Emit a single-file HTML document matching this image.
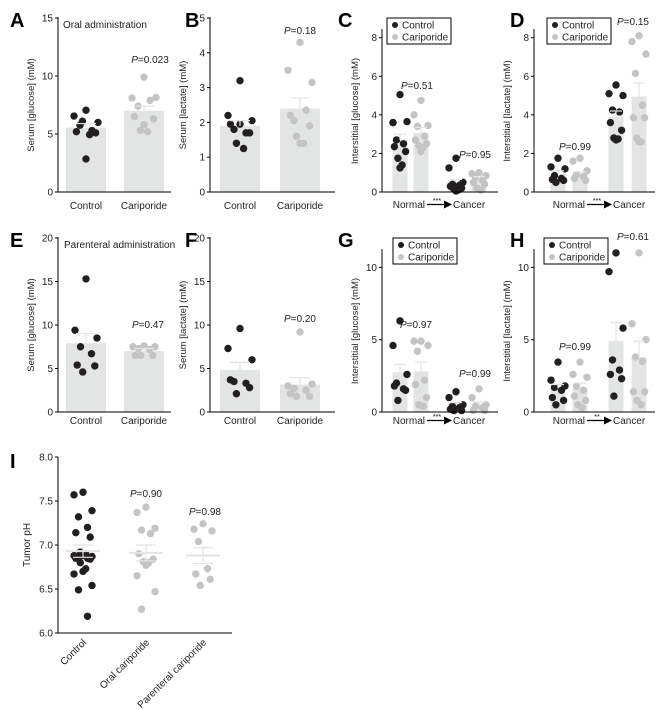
<!DOCTYPE html>
<html><head><meta charset="utf-8"><style>
html,body{margin:0;padding:0;background:#fff;}
svg{display:block;font-family:"Liberation Sans",Arial,sans-serif;}
</style></head><body>
<svg id="s" width="670" height="710" viewBox="0 0 670 710" xmlns="http://www.w3.org/2000/svg">
<g font-weight="bold" font-size="20" fill="#000">
<text x="10" y="27">A</text><text x="185" y="27">B</text><text x="338" y="27">C</text><text x="510" y="27">D</text>
<text x="10" y="247">E</text><text x="185" y="247">F</text><text x="338" y="247">G</text><text x="510" y="247">H</text>
<text x="10" y="468">I</text>
</g>
<g font-size="10" fill="#222">
<text x="63" y="28">Oral administration</text>
<text x="64" y="248">Parenteral administration</text>
<text x="150" y="63" text-anchor="middle"><tspan font-style="italic">P</tspan>=0.023</text>
<text x="300" y="34" text-anchor="middle"><tspan font-style="italic">P</tspan>=0.18</text>
<text x="417" y="89" text-anchor="middle"><tspan font-style="italic">P</tspan>=0.51</text>
<text x="475" y="158" text-anchor="middle"><tspan font-style="italic">P</tspan>=0.95</text>
<text x="575" y="150" text-anchor="middle"><tspan font-style="italic">P</tspan>=0.99</text>
<text x="633" y="25" text-anchor="middle"><tspan font-style="italic">P</tspan>=0.15</text>
<text x="148" y="328" text-anchor="middle"><tspan font-style="italic">P</tspan>=0.47</text>
<text x="300" y="322" text-anchor="middle"><tspan font-style="italic">P</tspan>=0.20</text>
<text x="416" y="328" text-anchor="middle"><tspan font-style="italic">P</tspan>=0.97</text>
<text x="475" y="377" text-anchor="middle"><tspan font-style="italic">P</tspan>=0.99</text>
<text x="575" y="350" text-anchor="middle"><tspan font-style="italic">P</tspan>=0.99</text>
<text x="633" y="240" text-anchor="middle"><tspan font-style="italic">P</tspan>=0.61</text>
<text x="146" y="497" text-anchor="middle"><tspan font-style="italic">P</tspan>=0.90</text>
<text x="205" y="515" text-anchor="middle"><tspan font-style="italic">P</tspan>=0.98</text>
</g>
</svg>
<script>
var s=document.getElementById('s'),NS='http://www.w3.org/2000/svg';
function el(t,a,txt){var e=document.createElementNS(NS,t);for(var k in a)e.setAttribute(k,a[k]);if(txt!==undefined)e.textContent=txt;s.appendChild(e);return e;}
var BK='#231f20',GR='#c4c4c4',BAR='#e3e4e4',R=3.7;
function offs(n,w){var p=[0,-w,w,-w/2,w/2,-w*0.8,w*0.8,-w*0.3,w*0.3];var r=[];for(var i=0;i<n;i++)r.push(p[i%p.length]);return r;}
function panel(o){
 var sc=function(v){return o.y0-(v/o.max)*(o.y0-o.yt);};
 o.g.forEach(function(g){
  if(g.bar!==undefined){el('rect',{x:g.x-o.bw/2,y:sc(g.bar),width:o.bw,height:o.y0-sc(g.bar),fill:BAR});}
 });
 o.g.forEach(function(g){
  var of=offs(g.d.length,o.jw);
  g.d.forEach(function(v,i){el('circle',{cx:g.x+of[i],cy:sc(v),r:R,fill:g.c});});
  if(g.err!==undefined){
   var hw=o.ew;
   el('line',{x1:g.x,y1:sc(g.bar),x2:g.x,y2:sc(g.err),stroke:BAR,'stroke-width':1.2});
   el('line',{x1:g.x-hw,y1:sc(g.err),x2:g.x+hw,y2:sc(g.err),stroke:BAR,'stroke-width':1.2});
  }
 });
 el('line',{x1:o.ax,y1:o.yt-1,x2:o.ax,y2:o.y0,stroke:'#000','stroke-width':1});
 el('line',{x1:o.ax,y1:o.y0,x2:o.xe,y2:o.y0,stroke:'#000','stroke-width':1});
 o.ticks.forEach(function(t){
  el('line',{x1:o.ax-3,y1:sc(t),x2:o.ax,y2:sc(t),stroke:'#000','stroke-width':1});
  el('text',{x:o.ax-5,y:sc(t)+3.5,'font-size':10,'text-anchor':'end',fill:'#222'},String(t));
 });
 var cy=(o.y0+o.yt)/2;
 el('text',{x:0,y:0,'font-size':9.5,'text-anchor':'middle',fill:'#222',transform:'translate('+(o.ax-24)+','+cy+') rotate(-90)'},o.ylab);
}
function xl2(a,b,y){
 el('text',{x:a,y:y,'font-size':10,'text-anchor':'middle',fill:'#222'},'Control');
 el('text',{x:b,y:y,'font-size':10,'text-anchor':'middle',fill:'#222'},'Cariporide');
}
function nc(x,y,stars){
 el('text',{x:x-2,y:y,'font-size':10,'text-anchor':'end',fill:'#222'},'Normal');
 el('line',{x1:x,y1:y-3.5,x2:x+19,y2:y-3.5,stroke:'#000','stroke-width':1.2});
 el('polygon',{points:(x+17)+','+(y-7.5)+' '+(x+25)+','+(y-3.5)+' '+(x+17)+','+(y+0.5),fill:'#000'});
 el('text',{x:x+10,y:y-5,'font-size':7,'text-anchor':'middle',fill:'#000'},stars);
 el('text',{x:x+26,y:y,'font-size':10,fill:'#222'},'Cancer');
}
function legend(x,y){
 el('rect',{x:x,y:y,width:64,height:26,fill:'#fff',stroke:'#000','stroke-width':1});
 el('circle',{cx:x+8,cy:y+7,r:3,fill:BK});
 el('text',{x:x+15,y:y+10.5,'font-size':10,fill:'#222'},'Control');
 el('circle',{cx:x+8,cy:y+19,r:3,fill:GR});
 el('text',{x:x+15,y:y+22.5,'font-size':10,fill:'#222'},'Cariporide');
}
panel({ax:58,y0:192,yt:18,max:15,xe:171,bw:40,jw:12,ew:10,ticks:[0,5,10,15],ylab:'Serum [glucose] (mM)',g:[
 {x:86,c:BK,bar:5.55,err:5.9,d:[7.05,6.55,6.0,5.75,5.3,5.2,5.1,6.1,4.95,2.85]},
 {x:144,c:GR,bar:7.0,err:7.4,d:[9.9,8.1,8.15,7.4,7.9,6.5,6.3,5.3,5.2,5.8]}]});
xl2(86,144,209);
panel({ax:210,y0:192,yt:18,max:5,xe:335,bw:40,jw:12,ew:10,ticks:[0,1,2,3,4,5],ylab:'Serum [lactate] (mM)',g:[
 {x:240,c:BK,bar:1.9,err:2.05,d:[3.2,2.2,2.05,1.8,1.7,1.95,1.7,1.4,1.25,1.95]},
 {x:300,c:GR,bar:2.4,err:2.7,d:[4.3,3.5,3.15,2.05,2.35,2.2,1.9,1.6,1.4,1.4]}]});
xl2(240,300,209);
panel({ax:382,y0:192,yt:30,max:8.4,xe:498,bw:15,jw:7,ew:6,ticks:[0,2,4,6,8],ylab:'Interstitial [glucose] (mM)',g:[
 {x:400,c:BK,bar:2.7,err:3.0,d:[5.05,3.6,3.65,2.7,2.5,2.35,2.1,1.75,1.4,1.25,3.6]},
 {x:421,c:GR,bar:3.05,err:3.35,d:[4.75,4.0,3.45,3.4,2.9,2.7,2.5,2.4,2.3,2.1]},
 {x:456,c:BK,bar:0.5,err:0.65,d:[1.75,1.25,0.5,0.4,0.35,0.3,0.2,0.15,0.1,0.05]},
 {x:479,c:GR,bar:0.65,err:0.8,d:[1.0,0.95,0.85,0.75,0.6,0.5,0.4,0.2,0.1]}]});
legend(387,18);nc(427,208,'***');
panel({ax:534,y0:192,yt:30,max:8.4,xe:655,bw:15,jw:7,ew:6,ticks:[0,2,4,6,8],ylab:'Interstitial [lactate] (mM)',g:[
 {x:558,c:BK,bar:0.95,err:1.1,d:[1.75,1.3,1.2,0.85,0.7,0.65,0.6,0.5]},
 {x:580,c:GR,bar:0.95,err:1.05,d:[1.75,1.6,1.1,0.9,0.8,0.7,0.6]},
 {x:616,c:BK,bar:3.9,err:4.2,d:[5.55,5.1,5.0,4.25,4.15,3.6,3.2,2.8,2.75,2.7]},
 {x:639,c:GR,bar:4.95,err:5.65,d:[8.1,7.8,7.15,6.15,4.5,3.85,3.85,2.8,2.6,2.6]}]});
legend(547,18);nc(587,208,'***');
panel({ax:58,y0:412,yt:238,max:20,xe:171,bw:40,jw:11,ew:10,ticks:[0,5,10,15,20],ylab:'Serum [glucose] (mM)',g:[
 {x:86,c:BK,bar:7.9,err:9.0,d:[15.3,9.4,8.5,7.5,6.7,5.4,5.3,4.6]},
 {x:144,c:GR,bar:7.0,err:7.3,d:[7.6,7.5,7.5,7.3,7.2,6.5,6.5,6.5]}]});
xl2(86,144,424);
panel({ax:210,y0:412,yt:238,max:20,xe:335,bw:40,jw:12,ew:10,ticks:[0,5,10,15,20],ylab:'Serum [lactate] (mM)',g:[
 {x:240,c:BK,bar:4.85,err:5.7,d:[9.6,7.3,6.0,3.5,3.3,3.7,2.8,2.1]},
 {x:300,c:GR,bar:3.15,err:3.95,d:[9.2,3.0,3.2,2.7,2.5,2.1,1.8,1.8]}]});
xl2(240,300,424);
panel({ax:382,y0:412,yt:250,max:11.2,xe:498,bw:15,jw:7,ew:6,ticks:[0,5,10],ylab:'Interstitial [glucose] (mM)',g:[
 {x:400,c:BK,bar:2.75,err:3.3,d:[6.3,4.6,2.6,2.0,1.6,1.8,1.5,0.8]},
 {x:421,c:GR,bar:2.8,err:3.45,d:[4.9,4.9,4.6,4.2,2.2,1.9,1.0,0.5,0.4]},
 {x:456,c:BK,bar:0.5,err:0.65,d:[1.4,1.0,0.5,0.4,0.3,0.2,0.1,0.1]},
 {x:479,c:GR,bar:0.5,err:0.7,d:[1.6,1.0,0.5,0.4,0.3,0.1,0.1]}]});
legend(393,238);nc(427,424,'***');
panel({ax:534,y0:412,yt:250,max:11.2,xe:655,bw:15,jw:7,ew:6,ticks:[0,5,10],ylab:'Interstitial [lactate] (mM)',g:[
 {x:558,c:BK,bar:1.65,err:1.9,d:[3.45,2.2,1.8,1.7,1.5,1.0,0.8,0.5]},
 {x:580,c:GR,bar:1.65,err:2.0,d:[3.45,2.6,2.4,1.8,1.5,1.1,0.8,0.5,0.3]},
 {x:616,c:BK,bar:4.9,err:6.2,d:[11,9.7,5.8,3.6,2.9,2.6,2.3,1.1]},
 {x:639,c:GR,bar:3.8,err:4.9,d:[11,6.1,5.0,3.8,3.5,1.4,1.4,0.8,0.5]}]});
legend(544,238);nc(587,424,'**');
(function(){
 var ax=58,y0=633,yt=457;var sc=function(v){return y0-(v-6)/2*(y0-yt);};
 var gs=[{x:83,c:BK,m:6.93,e:0.07,d:[7.6,7.57,7.39,7.32,7.2,7.14,7.09,6.92,6.9,6.88,6.88,6.87,6.86,6.85,6.85,6.84,6.8,6.73,6.7,6.67,6.54,6.49,6.19],l:'Control'},
 {x:146,c:GR,m:6.91,e:0.09,d:[7.43,7.37,7.19,7.17,7.13,6.9,6.84,6.81,6.8,6.77,6.65,6.47,6.27],l:'Oral cariporide'},
 {x:203,c:GR,m:6.88,e:0.09,d:[7.24,7.18,7.16,7.04,6.73,6.67,6.61,6.54],l:'Parenteral cariporide'}];
 gs.forEach(function(g){
  var of=offs(g.d.length,9);
  g.d.forEach(function(v,i){el('circle',{cx:g.x+of[i],cy:sc(v),r:R,fill:g.c});});
  el('line',{x1:g.x-17,y1:sc(g.m),x2:g.x+17,y2:sc(g.m),stroke:BAR,'stroke-width':2});
  el('line',{x1:g.x,y1:sc(g.m-g.e),x2:g.x,y2:sc(g.m+g.e),stroke:BAR,'stroke-width':1.2});
  [g.m-g.e,g.m+g.e].forEach(function(v){el('line',{x1:g.x-10,y1:sc(v),x2:g.x+10,y2:sc(v),stroke:BAR,'stroke-width':1.2});});
  el('text',{x:0,y:0,'font-size':10,'text-anchor':'end',fill:'#222',transform:'translate('+(g.x+4)+',643) rotate(-45)'},g.l);
 });
 el('line',{x1:ax,y1:yt,x2:ax,y2:y0,stroke:'#000'});
 el('line',{x1:ax,y1:y0,x2:232,y2:y0,stroke:'#000'});
 [6,6.5,7,7.5,8].forEach(function(t){
  el('line',{x1:ax-3,y1:sc(t),x2:ax,y2:sc(t),stroke:'#000'});
  el('text',{x:ax-5,y:sc(t)+3.5,'font-size':10,'text-anchor':'end',fill:'#222'},t.toFixed(1));
 });
 el('text',{x:0,y:0,'font-size':10,'text-anchor':'middle',fill:'#222',transform:'translate(30,545) rotate(-90)'},'Tumor pH');
})();
</script>
</body></html>
